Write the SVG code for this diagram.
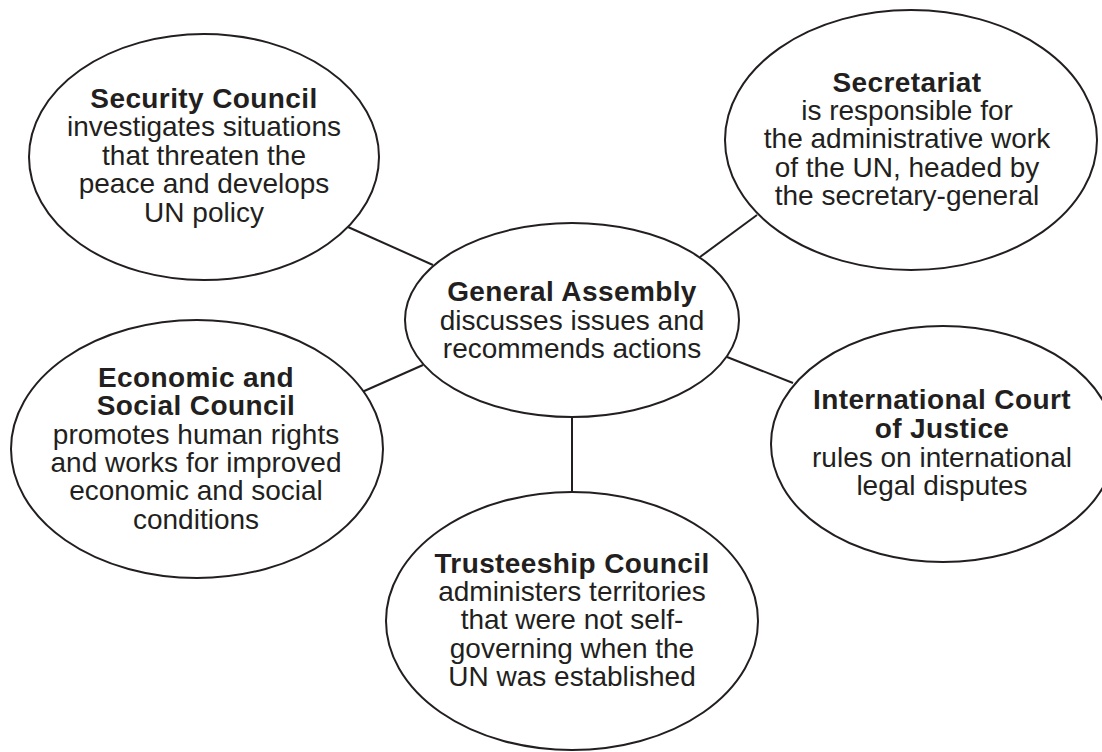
<svg xmlns="http://www.w3.org/2000/svg" width="1102" height="752" viewBox="0 0 1102 752">
<style>
.node ellipse{fill:#fff;stroke:#231f20;stroke-width:2}
.edges line{stroke:#231f20;stroke-width:2}
text{font-family:"Liberation Sans",Arial,sans-serif;font-size:28px;fill:#231f20;text-anchor:middle}
.b{font-weight:bold;letter-spacing:0.4px}
</style>
<rect width="1102" height="752" fill="#fff"/>
<g class="edges">
<line x1="348" y1="227" x2="433" y2="265"/>
<line x1="757" y1="215" x2="700" y2="257"/>
<line x1="362" y1="392" x2="423" y2="365"/>
<line x1="727" y1="357" x2="793" y2="383"/>
<line x1="572" y1="417" x2="572" y2="492"/>
</g>
<g id="security" class="node">
<ellipse cx="204" cy="157" rx="175" ry="123"/>
<text x="204" y="108" class="b">Security Council</text>
<text x="204" y="136">investigates situations</text>
<text x="204" y="165">that threaten the</text>
<text x="204" y="193">peace and develops</text>
<text x="204" y="222">UN policy</text>
</g>
<g id="secretariat" class="node">
<ellipse cx="911" cy="140" rx="186" ry="130"/>
<text x="907" y="92" class="b">Secretariat</text>
<text x="907" y="120">is responsible for</text>
<text x="907" y="148">the administrative work</text>
<text x="907" y="177">of the UN, headed by</text>
<text x="907" y="205">the secretary-general</text>
</g>
<g id="general" class="node">
<ellipse cx="572" cy="320" rx="167" ry="97"/>
<text x="572" y="301" class="b">General Assembly</text>
<text x="572" y="330">discusses issues and</text>
<text x="572" y="358">recommends actions</text>
</g>
<g id="economic" class="node">
<ellipse cx="197" cy="449" rx="186" ry="129"/>
<text x="196" y="387" class="b">Economic and</text>
<text x="196" y="415" class="b">Social Council</text>
<text x="196" y="444">promotes human rights</text>
<text x="196" y="472">and works for improved</text>
<text x="196" y="500">economic and social</text>
<text x="196" y="529">conditions</text>
</g>
<g id="icj" class="node">
<ellipse cx="943" cy="444" rx="172" ry="118"/>
<text x="942" y="409" class="b">International Court</text>
<text x="942" y="438" class="b">of Justice</text>
<text x="942" y="467">rules on international</text>
<text x="942" y="495">legal disputes</text>
</g>
<g id="trusteeship" class="node">
<ellipse cx="572" cy="621" rx="186" ry="129"/>
<text x="572" y="573" class="b">Trusteeship Council</text>
<text x="572" y="601">administers territories</text>
<text x="572" y="629">that were not self-</text>
<text x="572" y="658">governing when the</text>
<text x="572" y="686">UN was established</text>
</g>
</svg>
